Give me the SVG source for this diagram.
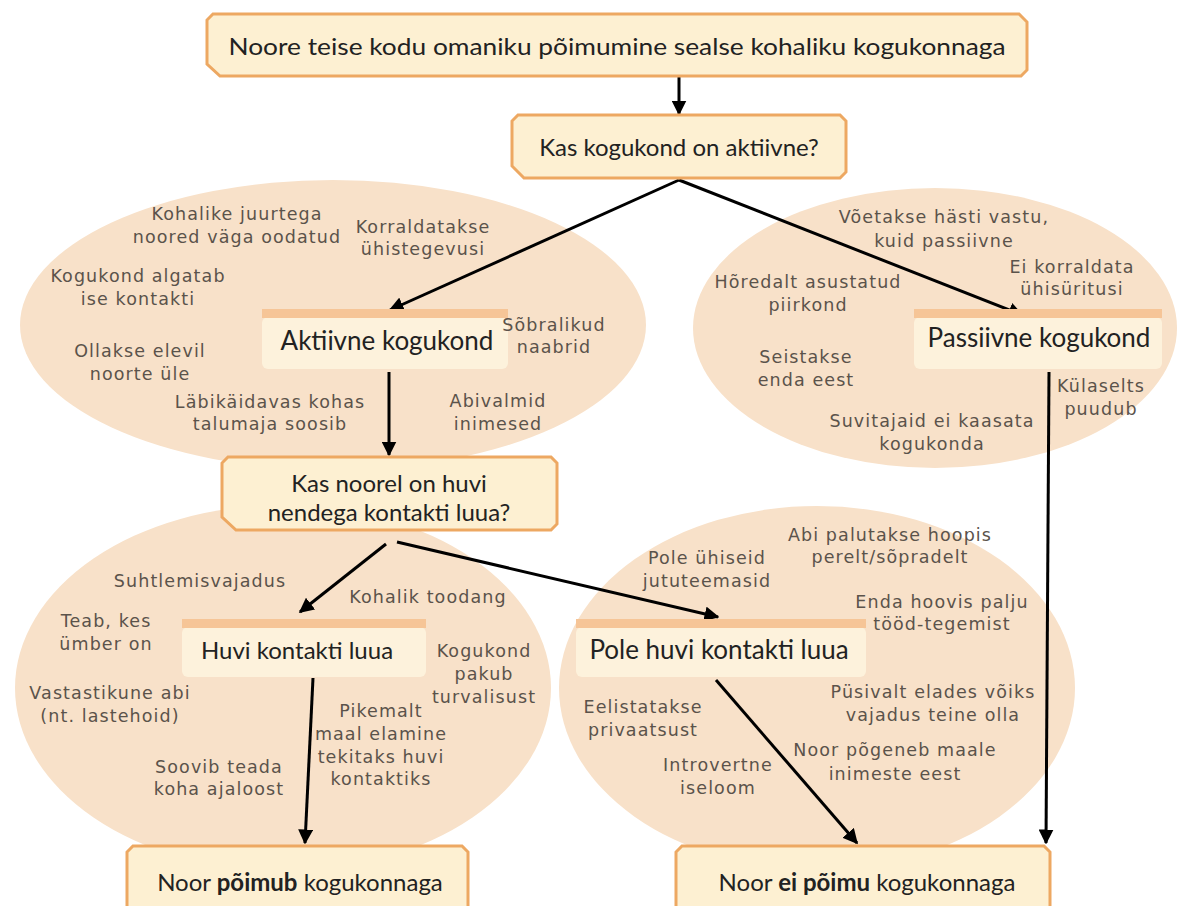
<svg xmlns="http://www.w3.org/2000/svg" width="1179" height="906" viewBox="0 0 1179 906">
<defs>
<marker id="ah" viewBox="0 0 10 10" refX="9" refY="5" markerWidth="5" markerHeight="5" markerUnits="strokeWidth" orient="auto">
<path d="M0,0 L10,5 L0,10 z" fill="#000"/>
</marker>
</defs>
<style>
.ell{fill:#f8e1c9}
.box{fill:#fdf0d2;stroke:#eda862;stroke-width:3}
.bar{fill:#f6c597}
.cream{fill:#fdf2dc}
.t{font-family:Lato,"Open Sans",sans-serif;font-size:24px;fill:#222;text-anchor:middle}
.l{font-size:26px}
.n{font-family:"DejaVu Sans",Verdana,sans-serif;font-size:17.5px;letter-spacing:1.1px;fill:#5b534b;text-anchor:middle}
.c{stroke:#000;stroke-width:3;fill:none;marker-end:url(#ah)}
</style>
<rect width="1179" height="906" fill="#fff"/>
<g id="ellipses">
<ellipse class="ell" cx="333" cy="325" rx="313" ry="145"/>
<ellipse class="ell" cx="935" cy="328" rx="242" ry="140"/>
<ellipse class="ell" cx="283" cy="688" rx="268" ry="183"/>
<ellipse class="ell" cx="817" cy="688" rx="258" ry="182"/>
</g>
<g id="connectors">
<line class="c" x1="679" y1="77" x2="679" y2="114"/>
<line class="c" x1="679" y1="180" x2="390" y2="310"/>
<line class="c" x1="679" y1="180" x2="1022" y2="315"/>
<line class="c" x1="389" y1="372" x2="389" y2="455"/>
<line class="c" x1="386" y1="544" x2="300" y2="612"/>
<line class="c" x1="397" y1="542" x2="718" y2="617"/>
<line class="c" x1="313" y1="678" x2="305" y2="843"/>
<line class="c" x1="716" y1="680" x2="857" y2="843"/>
<line class="c" x1="1049" y1="372" x2="1046" y2="843"/>
</g>
<g id="n-title">
<polygon class="box" points="213,14 1019,14 1027,22 1027,70 1021,76 220,76 207,64 207,20"/>
<text class="t" x="617" y="55" textLength="777" lengthAdjust="spacingAndGlyphs">Noore teise kodu omaniku põimumine sealse kohaliku kogukonnaga</text>
</g>
<g id="n-q1">
<polygon class="box" points="518,115 840,115 846,121 846,172 840,178 524,178 512,166 512,121"/>
<text class="t" x="679" y="156">Kas kogukond on aktiivne?</text>
</g>
<g id="n-aktiivne">
<rect class="cream" x="262" y="317" width="246" height="52" rx="6"/>
<rect class="bar" x="262" y="309" width="246" height="9"/>
<text class="t l" x="387" y="350">Aktiivne kogukond</text>
</g>
<g id="n-passiivne">
<rect class="cream" x="914" y="317" width="248" height="52" rx="6"/>
<rect class="bar" x="914" y="309" width="248" height="9"/>
<text class="t l" x="1039" y="347">Passiivne kogukond</text>
</g>
<g id="n-q2">
<polygon class="box" points="228,457 551,457 557,463 557,524 551,530 236,530 222,517 222,463"/>
<text class="t" x="389" y="492">Kas noorel on huvi</text>
<text class="t" x="389" y="521">nendega kontakti luua?</text>
</g>
<g id="n-huvi">
<rect class="cream" x="182" y="627" width="244" height="50" rx="6"/>
<rect class="bar" x="182" y="619" width="244" height="9"/>
<text class="t" x="297" y="659" font-size="27">Huvi kontakti luua</text>
</g>
<g id="n-polehuvi">
<rect class="cream" x="576" y="627" width="290" height="50" rx="6"/>
<rect class="bar" x="576" y="619" width="290" height="9"/>
<text class="t l" x="719" y="659">Pole huvi kontakti luua</text>
</g>
<g id="n-poimub">
<polygon class="box" points="133,846 462,846 468,852 468,910 127,910 127,852"/>
<text class="t" x="300" y="891" font-size="25">Noor <tspan font-weight="bold">põimub</tspan> kogukonnaga</text>
</g>
<g id="n-eipoimu">
<polygon class="box" points="682,846 1044,846 1050,852 1050,910 676,910 676,852"/>
<text class="t" x="867" y="891" font-size="27">Noor <tspan font-weight="bold">ei põimu</tspan> kogukonnaga</text>
</g>
<g id="notes">
<text class="n" x="237" y="220">Kohalike juurtega</text>
<text class="n" x="237" y="243">noored väga oodatud</text>
<text class="n" x="423" y="233">Korraldatakse</text>
<text class="n" x="423" y="255">ühistegevusi</text>
<text class="n" x="138" y="282">Kogukond algatab</text>
<text class="n" x="138" y="305">ise kontakti</text>
<text class="n" x="140" y="357">Ollakse elevil</text>
<text class="n" x="140" y="380">noorte üle</text>
<text class="n" x="270" y="408">Läbikäidavas kohas</text>
<text class="n" x="270" y="430">talumaja soosib</text>
<text class="n" x="554" y="331">Sõbralikud</text>
<text class="n" x="554" y="353">naabrid</text>
<text class="n" x="498" y="407">Abivalmid</text>
<text class="n" x="498" y="430">inimesed</text>
<text class="n" x="944" y="223">Võetakse hästi vastu,</text>
<text class="n" x="944" y="247">kuid passiivne</text>
<text class="n" x="1072" y="273">Ei korraldata</text>
<text class="n" x="1072" y="295">ühisüritusi</text>
<text class="n" x="808" y="288">Hõredalt asustatud</text>
<text class="n" x="808" y="311">piirkond</text>
<text class="n" x="806" y="363">Seistakse</text>
<text class="n" x="806" y="386">enda eest</text>
<text class="n" x="1101" y="392">Külaselts</text>
<text class="n" x="1101" y="415">puudub</text>
<text class="n" x="932" y="427">Suvitajaid ei kaasata</text>
<text class="n" x="932" y="450">kogukonda</text>
<text class="n" x="200" y="587">Suhtlemisvajadus</text>
<text class="n" x="428" y="603">Kohalik toodang</text>
<text class="n" x="106" y="627">Teab, kes</text>
<text class="n" x="106" y="650">ümber on</text>
<text class="n" x="484" y="657">Kogukond</text>
<text class="n" x="484" y="680">pakub</text>
<text class="n" x="484" y="703">turvalisust</text>
<text class="n" x="110" y="699">Vastastikune abi</text>
<text class="n" x="110" y="722">(nt. lastehoid)</text>
<text class="n" x="381" y="717">Pikemalt</text>
<text class="n" x="381" y="740">maal elamine</text>
<text class="n" x="381" y="763">tekitaks huvi</text>
<text class="n" x="381" y="785">kontaktiks</text>
<text class="n" x="219" y="773">Soovib teada</text>
<text class="n" x="219" y="795">koha ajaloost</text>
<text class="n" x="890" y="541">Abi palutakse hoopis</text>
<text class="n" x="890" y="563">perelt/sõpradelt</text>
<text class="n" x="707" y="564">Pole ühiseid</text>
<text class="n" x="707" y="587">jututeemasid</text>
<text class="n" x="942" y="608">Enda hoovis palju</text>
<text class="n" x="942" y="630">tööd-tegemist</text>
<text class="n" x="933" y="698">Püsivalt elades võiks</text>
<text class="n" x="933" y="721">vajadus teine olla</text>
<text class="n" x="643" y="713">Eelistatakse</text>
<text class="n" x="643" y="736">privaatsust</text>
<text class="n" x="895" y="756">Noor põgeneb maale</text>
<text class="n" x="895" y="780">inimeste eest</text>
<text class="n" x="718" y="771">Introvertne</text>
<text class="n" x="718" y="794">iseloom</text>
</g>
</svg>
